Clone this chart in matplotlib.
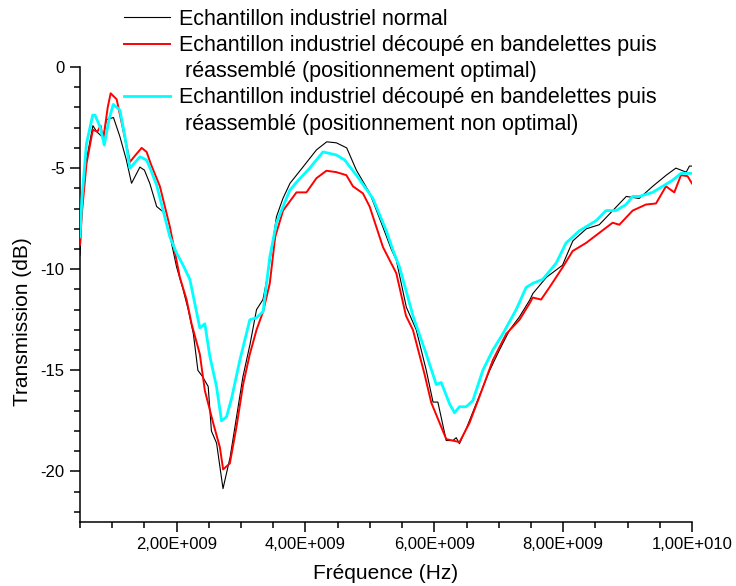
import numpy as np
import matplotlib
matplotlib.use("Agg")
import matplotlib.pyplot as plt
from matplotlib.ticker import MultipleLocator, FuncFormatter
from matplotlib.lines import Line2D

plt.rcParams['font.family'] = ['Liberation Sans', 'DejaVu Sans']
plt.rcParams['axes.unicode_minus'] = False

# frequencies in GHz, transmission in dB
normal_freq = [0.50, 0.53, 0.60, 0.70, 0.76, 0.86, 0.91, 1.02, 1.12, 1.22, 1.30,
               1.43, 1.50, 1.585, 1.69, 1.79, 1.90, 2.00, 2.10, 2.18, 2.26, 2.33,
               2.40, 2.49, 2.54, 2.62, 2.72, 2.83, 2.93, 3.03, 3.14, 3.24, 3.34,
               3.42, 3.55, 3.65, 3.76, 3.96, 4.17, 4.33, 4.48, 4.64, 4.79, 5.00,
               5.20, 5.33, 5.41, 5.565, 5.72, 5.875, 5.98, 6.055, 6.185, 6.29,
               6.34, 6.39, 6.495, 6.65, 6.86, 7.01, 7.17, 7.32, 7.48, 7.53, 7.74,
               7.99, 8.15, 8.36, 8.56, 8.77, 8.98, 9.18, 9.39, 9.60, 9.75, 9.91,
               9.96, 10.0]
normal_db = [-9.3, -7.1, -4.6, -2.9, -3.2, -3.5, -2.6, -2.5, -3.45, -4.6, -5.75,
             -4.95, -5.1, -5.77, -6.9, -7.16, -8.4, -9.9, -11.0, -12.0, -13.2, -15.0,
             -15.3, -15.8, -18.0, -18.6, -20.85, -19.3, -17.3, -15.3, -13.7, -12.0, -11.5,
             -10.2, -7.4, -6.5, -5.75, -4.95, -4.1, -3.7, -3.75, -4.0, -5.1, -6.25,
             -7.9, -9.0, -9.55, -11.87, -13.0, -15.0, -16.57, -16.57, -18.47, -18.47,
             -18.33, -18.63, -17.89, -16.65, -15.0, -14.0, -13.0, -12.36, -11.53, -11.2, -10.4,
             -9.8, -8.6, -8.0, -7.8, -7.1, -6.4, -6.5, -5.9, -5.35, -5.0, -5.2,
             -4.9, -4.9]

optimal_freq = [0.50, 0.53, 0.60, 0.70, 0.77, 0.82, 0.86, 0.93, 0.976, 1.069, 1.17,
                1.275, 1.35, 1.457, 1.534, 1.60, 1.74, 1.895, 2.05, 2.154, 2.232, 2.36,
                2.438, 2.567, 2.671, 2.722, 2.826, 2.929, 3.032, 3.136, 3.24, 3.342, 3.446,
                3.53, 3.652, 3.86, 4.015, 4.17, 4.325, 4.48, 4.635, 4.737, 4.892, 4.996,
                5.202, 5.41, 5.56, 5.668, 5.849, 5.953, 6.185, 6.391, 6.546, 6.701, 6.908,
                7.116, 7.322, 7.477, 7.528, 7.658, 7.787, 7.993, 8.148, 8.356, 8.562, 8.768,
                8.872, 9.079, 9.286, 9.441, 9.596, 9.725, 9.829, 9.931, 10.0]
optimal_db = [-8.8, -7.2, -4.8, -3.1, -3.2, -2.9, -3.6, -2.0, -1.3, -1.6, -3.1,
              -4.7, -4.4, -4.0, -4.2, -4.8, -5.9, -7.9, -10.4, -11.5, -12.7, -14.2,
              -16.0, -17.6, -18.8, -19.9, -19.6, -17.8, -15.7, -14.2, -13.0, -12.1, -10.7,
              -8.4, -7.1, -6.2, -6.2, -5.5, -5.13, -5.2, -5.35, -5.9, -6.25, -6.9,
              -8.9, -10.2, -12.3, -13.0, -15.2, -16.6, -18.4, -18.55, -17.6, -16.3, -14.5,
              -13.2, -12.5, -11.7, -11.4, -11.5, -10.9, -9.9, -9.1, -8.7, -8.2, -7.7,
              -7.8, -7.1, -6.8, -6.75, -5.9, -6.2, -5.35, -5.4, -5.76]

nonoptimal_freq = [0.50, 0.53, 0.60, 0.697, 0.733, 0.81, 0.877, 0.95, 1.016, 1.12, 1.198,
                   1.275, 1.43, 1.534, 1.60, 1.689, 1.791, 1.895, 1.999, 2.10, 2.205, 2.36,
                   2.438, 2.515, 2.619, 2.697, 2.774, 2.852, 2.981, 3.136, 3.24, 3.342, 3.446,
                   3.55, 3.678, 3.756, 3.86, 4.066, 4.272, 4.48, 4.609, 4.79, 5.047, 5.255,
                   5.358, 5.461, 5.668, 5.875, 6.03, 6.107, 6.236, 6.314, 6.391, 6.495, 6.598,
                   6.753, 6.908, 7.063, 7.27, 7.425, 7.528, 7.683, 7.891, 8.045, 8.252, 8.511,
                   8.666, 8.821, 8.976, 9.079, 9.182, 9.389, 9.544, 9.698, 9.829, 10.0]
nonoptimal_db = [-8.4, -6.5, -3.8, -2.38, -2.38, -2.95, -3.86, -2.6, -1.85, -2.13, -3.45,
                 -5.0, -4.44, -4.6, -5.1, -5.84, -7.1, -8.4, -9.2, -9.8, -10.5, -12.9,
                 -12.7, -14.3, -15.8, -17.5, -17.3, -16.4, -14.5, -12.5, -12.4, -12.1, -9.4,
                 -7.7, -6.7, -6.1, -5.7, -5.0, -4.2, -4.35, -4.6, -5.35, -6.5, -8.1,
                 -9.06, -9.9, -12.3, -14.2, -15.7, -15.6, -16.65, -17.1, -16.8, -16.8, -16.5,
                 -15.0, -14.0, -13.2, -12.0, -10.9, -10.7, -10.5, -9.7, -8.7, -8.1, -7.6,
                 -7.1, -7.1, -6.8, -6.4, -6.4, -6.2, -5.9, -5.6, -5.26, -5.26]

labels = ["Echantillon industriel normal",
          "Echantillon industriel découpé en bandelettes puis",
          " réassemblé (positionnement optimal)",
          "Echantillon industriel découpé en bandelettes puis",
          " réassemblé (positionnement non optimal)"]


def sci_fmt(v, pos):
    if v == 0:
        return "0"
    e = int(np.floor(np.log10(abs(v)) + 1e-9))
    m = v / 10 ** e
    return f"{m:.2f}".replace(".", ",") + f"E+{e:03d}"


fig = plt.figure(figsize=(7.36, 5.86), dpi=100)
ax = fig.add_axes([80 / 736, 1 - 522 / 586, 612 / 736, 455 / 586])

ax.plot(np.array(normal_freq) * 1e9, normal_db, color='black', lw=0.8, zorder=3)
ax.plot(np.array(optimal_freq) * 1e9, optimal_db, color='#ff0000', lw=1.4, zorder=4)
ax.plot(np.array(nonoptimal_freq) * 1e9, nonoptimal_db, color='#00ffff', lw=2.0, zorder=5)

ax.set_xlim(0.5e9, 1e10)
ax.set_ylim(-22.5, 0)
ax.xaxis.set_major_locator(MultipleLocator(2e9))
ax.xaxis.set_minor_locator(MultipleLocator(5e8))
ax.xaxis.set_major_formatter(FuncFormatter(sci_fmt))
ax.yaxis.set_major_locator(MultipleLocator(5))
ax.yaxis.set_minor_locator(MultipleLocator(1))

for s in ['top', 'right']:
    ax.spines[s].set_visible(False)
for s in ['left', 'bottom']:
    ax.spines[s].set_linewidth(1.1)
ax.tick_params(which='major', length=7, width=1.1, labelsize=12, pad=4)
ax.tick_params(which='minor', length=4, width=1.1)

ax.set_xlabel("Fréquence (Hz)", fontsize=15)
ax.set_ylabel("Transmission (dB)", fontsize=15)
ax.xaxis.set_label_coords(0.5, -0.093)
ax.yaxis.set_label_coords(-0.078, 0.44)

blank = Line2D([], [], color='none')
handles = [Line2D([], [], color='black', lw=0.8),
           Line2D([], [], color='#ff0000', lw=1.4),
           blank,
           Line2D([], [], color='#00ffff', lw=2.0),
           blank]
fig.legend(handles, labels, loc='upper left', bbox_to_anchor=(124 / 736, 1 - 9 / 586),
           frameon=False, fontsize=15.5, handlelength=2.15, handletextpad=0.42,
           borderpad=0, borderaxespad=0, labelspacing=0.24)

fig.savefig("out.png", dpi=100)
